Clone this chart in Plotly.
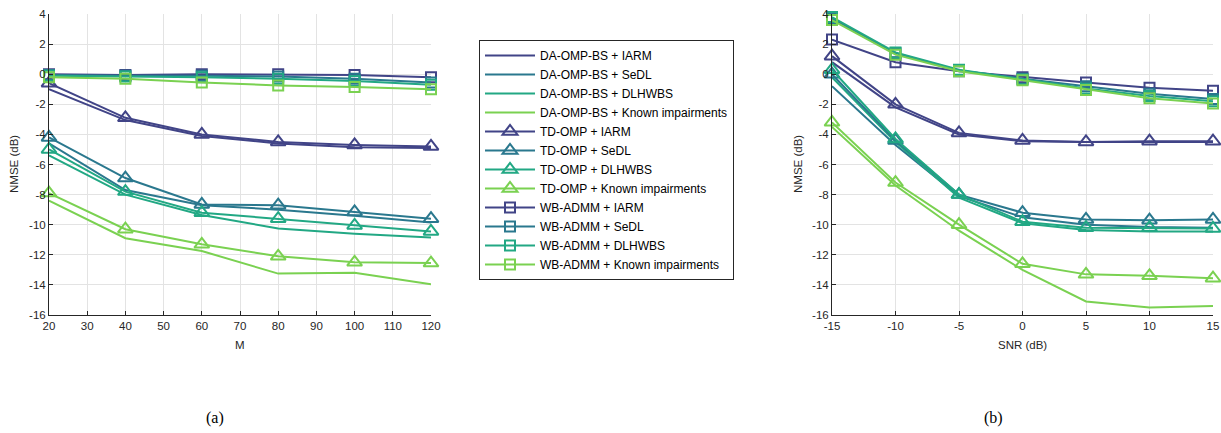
import plotly.graph_objects as go

# ---------------- data ----------------
M_vals = [20, 40, 60, 80, 100, 120]
SNR_vals = [-15, -10, -5, 0, 5, 10, 15]

impairments = ["IARM", "SeDL", "DLHWBS", "Known impairments"]
colors = ["#414487", "#2A788E", "#22A884", "#7AD151"]

# (a) NMSE vs M
a_da = {
    "IARM": [-1.0, -3.05, -4.1, -4.6, -4.85, -4.9],
    "SeDL": [-4.6, -7.7, -8.7, -9.0, -9.4, -9.85],
    "DLHWBS": [-5.4, -8.0, -9.35, -10.25, -10.6, -10.85],
    "Known impairments": [-8.4, -10.9, -11.75, -13.25, -13.2, -13.95],
}
a_td = {
    "IARM": [-0.6, -2.9, -4.0, -4.5, -4.7, -4.8],
    "SeDL": [-4.2, -6.9, -8.65, -8.7, -9.15, -9.6],
    "DLHWBS": [-5.0, -7.8, -9.2, -9.6, -10.05, -10.45],
    "Known impairments": [-7.9, -10.3, -11.3, -12.1, -12.5, -12.55],
}
a_wb = {
    "IARM": [0.0, -0.05, 0.0, 0.0, -0.05, -0.2],
    "SeDL": [-0.05, -0.1, -0.1, -0.15, -0.3, -0.55],
    "DLHWBS": [-0.1, -0.15, -0.2, -0.3, -0.45, -0.7],
    "Known impairments": [-0.2, -0.3, -0.55, -0.75, -0.85, -1.0],
}

# (b) NMSE vs SNR
b_da = {
    "IARM": [0.8, -2.2, -4.0, -4.45, -4.5, -4.5, -4.5],
    "SeDL": [-0.8, -4.7, -8.1, -9.5, -10.0, -10.15, -10.2],
    "DLHWBS": [-0.2, -4.5, -8.2, -9.9, -10.35, -10.45, -10.45],
    "Known impairments": [-3.5, -7.4, -10.4, -13.0, -15.1, -15.5, -15.4],
}
b_td = {
    "IARM": [1.2, -2.0, -3.9, -4.4, -4.5, -4.45, -4.45],
    "SeDL": [0.0, -4.4, -8.0, -9.2, -9.65, -9.7, -9.65],
    "DLHWBS": [0.3, -4.3, -8.0, -9.8, -10.2, -10.2, -10.25],
    "Known impairments": [-3.2, -7.2, -10.0, -12.6, -13.3, -13.4, -13.55],
}
b_wb = {
    "IARM": [2.3, 0.8, 0.2, -0.2, -0.55, -0.9, -1.1],
    "SeDL": [3.7, 1.4, 0.25, -0.3, -0.8, -1.3, -1.65],
    "DLHWBS": [3.8, 1.45, 0.3, -0.35, -0.95, -1.45, -1.8],
    "Known impairments": [3.6, 1.3, 0.2, -0.4, -1.05, -1.6, -1.95],
}

x_ticks_a = [20, 30, 40, 50, 60, 70, 80, 90, 100, 110, 120]
x_ticks_b = [-15, -10, -5, 0, 5, 10, 15]
y_ticks = [4, 2, 0, -2, -4, -6, -8, -10, -12, -14, -16]
x_labels_a = [str(v) for v in x_ticks_a]
x_labels_b = [str(v) for v in x_ticks_b]   # ASCII hyphen, as in the reference
y_labels = [str(v) for v in y_ticks]

# ---------------- figure ----------------
W, H = 1221, 433
fig = go.Figure()

methods = [
    ("DA-OMP-BS", a_da, b_da, "lines", None, 0),
    ("TD-OMP", a_td, b_td, "lines+markers", "triangle-up-open", 13),
    ("WB-ADMM", a_wb, b_wb, "lines+markers", "square-open", 10),
]

for mname, adata, bdata, mode, sym, msize in methods:
    for imp, col in zip(impairments, colors):
        mk = dict(symbol=sym, size=msize, color=col, line=dict(width=2, color=col)) if sym else None
        fig.add_trace(go.Scatter(
            x=M_vals, y=adata[imp], mode=mode, name=f"{mname} + {imp}",
            line=dict(color=col, width=2), marker=mk,
            xaxis="x", yaxis="y", showlegend=True, cliponaxis=False))
        fig.add_trace(go.Scatter(
            x=SNR_vals, y=bdata[imp], mode=mode, name=f"{mname} + {imp}",
            line=dict(color=col, width=2), marker=mk,
            xaxis="x2", yaxis="y2", showlegend=False, cliponaxis=False))

def px_x(p):
    return p / W

def px_y(p):
    return 1 - p / H

tickfont = dict(family="Liberation Sans, Arial", size=11.5, color="#262626")
axis_common = dict(
    showgrid=True, gridcolor="#e3e3e3", gridwidth=1,
    showline=True, linecolor="#262626", linewidth=1,
    ticks="inside", ticklen=4, tickcolor="#262626", tickwidth=1,
    zeroline=False, tickfont=tickfont, automargin=False, mirror=False,
)

ydom = [px_y(315), px_y(14)]
fig.update_layout(
    width=W, height=H,
    margin=dict(l=0, r=0, t=0, b=0),
    paper_bgcolor="white", plot_bgcolor="white",
    hovermode=False,
    xaxis=dict(domain=[px_x(49), px_x(431)], range=[20, 120],
               tickmode="array", tickvals=x_ticks_a, ticktext=x_labels_a,
               anchor="y", **axis_common),
    yaxis=dict(domain=ydom, range=[-16, 4],
               tickmode="array", tickvals=y_ticks, ticktext=y_labels,
               anchor="x", **axis_common),
    xaxis2=dict(domain=[px_x(832), px_x(1213)], range=[-15, 15],
                tickmode="array", tickvals=x_ticks_b, ticktext=x_labels_b,
                anchor="y2", **axis_common),
    yaxis2=dict(domain=ydom, range=[-16, 4],
                tickmode="array", tickvals=y_ticks, ticktext=y_labels,
                anchor="x2", **axis_common),
    legend=dict(
        x=px_x(479), y=px_y(40), xanchor="left", yanchor="top",
        bordercolor="#262626", borderwidth=1, bgcolor="white",
        font=dict(family="Liberation Sans, Arial", size=12, color="#000000"),
        tracegroupgap=0, itemwidth=50,
    ),
    showlegend=True,
)

lab_font = dict(family="Liberation Sans, Arial", size=11.5, color="#262626")
ann = [
    dict(text="M", x=px_x(240), y=px_y(345)),
    dict(text="SNR (dB)", x=px_x(1022), y=px_y(345)),
    dict(text="NMSE (dB)", x=px_x(14), y=px_y(164), textangle=-90),
    dict(text="NMSE (dB)", x=px_x(798), y=px_y(164), textangle=-90),
]
for a in ann:
    fig.add_annotation(xref="paper", yref="paper", showarrow=False,
                       xanchor="center", yanchor="middle", font=lab_font, **a)

cap_font = dict(family="Liberation Serif, Times New Roman", size=16, color="#000000")
fig.add_annotation(text="(a)", x=px_x(215), y=px_y(418), xref="paper", yref="paper",
                   showarrow=False, xanchor="center", yanchor="middle", font=cap_font)
fig.add_annotation(text="(b)", x=px_x(993), y=px_y(418), xref="paper", yref="paper",
                   showarrow=False, xanchor="center", yanchor="middle", font=cap_font)

fig.write_html("out.html", config={"displayModeBar": False},
               post_script="document.body.style.margin='0';document.body.style.overflow='hidden';")
